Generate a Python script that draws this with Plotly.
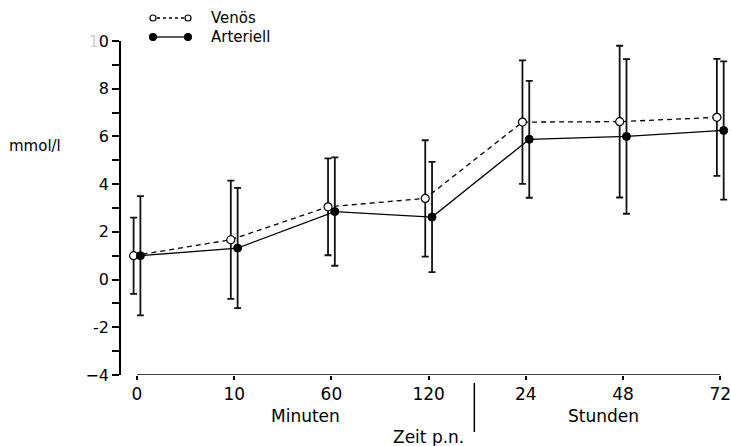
import plotly.graph_objects as go

# ---- data ----
time_labels = ["0", "10", "60", "120", "24", "48", "72"]
positions = [0, 1, 2, 3, 4, 5, 6]
venoes_mean = [1.0, 1.67, 3.05, 3.4, 6.6, 6.62, 6.8]
venoes_sd = [1.6, 2.48, 2.03, 2.44, 2.59, 3.18, 2.45]
arteriell_mean = [1.0, 1.32, 2.85, 2.62, 5.88, 6.0, 6.25]
arteriell_sd = [2.5, 2.52, 2.27, 2.31, 2.45, 3.24, 2.9]
y_tickvals = list(range(-4, 11))
y_ticktext = {-4: "\u22124", -2: "-2", 0: "0", 2: "2", 4: "4", 6: "6", 8: "8",
              10: "<span style='color:#d0d0d0'>1</span>0"}

# ---- geometry helpers ----
W, H = 731, 446
UNIT = 97.2            # pixels per category step
X0PX = 137             # pixel of first category
L, T, B = 121, 41, 375
XMAX = 6.1
R = X0PX + XMAX * UNIT
def px(x): return (x - L) / (R - L)
def py(y): return (B - y) / (B - T)

offset = 0.035
fig = go.Figure()
fig.add_trace(go.Scatter(
    x=[p - offset for p in positions], y=venoes_mean, mode="lines+markers",
    name="Venös", cliponaxis=False,
    line=dict(color="black", width=1.3, dash="5px,4px"),
    marker=dict(size=8, color="white", line=dict(color="black", width=1.2)),
    error_y=dict(type="data", array=venoes_sd, visible=True, color="#111",
                 thickness=1.8, width=3.5),
))
fig.add_trace(go.Scatter(
    x=[p + offset for p in positions], y=arteriell_mean, mode="lines+markers",
    name="Arteriell", cliponaxis=False,
    line=dict(color="black", width=1.3),
    marker=dict(size=8, color="black", line=dict(color="black", width=1)),
    error_y=dict(type="data", array=arteriell_sd, visible=True, color="#111",
                 thickness=1.8, width=3.5),
))

shapes = []
shapes.append(dict(type="line", xref="x", yref="y", x0=positions[0], x1=positions[-1],
                   y0=-4, y1=-4, line=dict(color="black", width=1.5)))
shapes.append(dict(type="line", xref="x", yref="paper", x0=3.47, x1=3.47,
                   y0=py(383), y1=py(432), line=dict(color="black", width=1.5)))
for yy, dash, fill, r in [(18, "3px,3px", "white", 3), (37, "solid", "black", 3.5)]:
    shapes.append(dict(type="line", xref="paper", yref="paper", x0=px(157), x1=px(184),
                       y0=py(yy), y1=py(yy), line=dict(color="black", width=1.3, dash=dash)))
    for cx in (153, 188):
        shapes.append(dict(type="circle", xref="paper", yref="paper",
                           xsizemode="pixel", ysizemode="pixel",
                           xanchor=px(cx), yanchor=py(yy),
                           x0=-r, x1=r, y0=-r, y1=r,
                           fillcolor=fill, line=dict(color="black", width=1.2)))

font = "DejaVu Sans"
annotations = [
    dict(text="Venös", xref="paper", yref="paper", x=px(209), y=py(18),
         xanchor="left", yanchor="middle", showarrow=False, font=dict(size=15)),
    dict(text="Arteriell", xref="paper", yref="paper", x=px(209), y=py(37),
         xanchor="left", yanchor="middle", showarrow=False, font=dict(size=15)),
    dict(text="mmol/l", xref="paper", yref="paper", x=px(35), y=py(146),
         xanchor="center", yanchor="middle", showarrow=False, font=dict(size=15)),
    dict(text="Minuten", xref="x", yref="paper", x=1.73, y=py(416),
         xanchor="center", yanchor="middle", showarrow=False, font=dict(size=17)),
    dict(text="Stunden", xref="x", yref="paper", x=4.8, y=py(416),
         xanchor="center", yanchor="middle", showarrow=False, font=dict(size=17)),
    dict(text="Zeit p.n.", xref="x", yref="paper", x=3.0, y=py(437),
         xanchor="center", yanchor="middle", showarrow=False, font=dict(size=17)),
]

fig.update_layout(
    width=W, height=H,
    margin=dict(l=L, r=W - R, t=T, b=H - B, pad=0, autoexpand=False),
    plot_bgcolor="white", paper_bgcolor="white",
    showlegend=False,
    font=dict(family=font, color="black"),
    shapes=shapes, annotations=annotations,
    xaxis=dict(range=[-(X0PX - L) / UNIT, XMAX], showgrid=False, zeroline=False, showline=False,
               automargin=False, ticklabeloverflow="allow",
               tickvals=positions, ticktext=time_labels, ticks="outside", ticklen=4,
               tickwidth=1.5, tickcolor="black", tickfont=dict(size=17)),
    yaxis=dict(range=[-4, 10], showgrid=False, zeroline=False, showline=True,
               automargin=False, ticklabeloverflow="allow",
               linecolor="black", linewidth=1.5,
               tickvals=y_tickvals, ticktext=[y_ticktext.get(v, "") for v in y_tickvals],
               ticks="outside", ticklen=7, tickwidth=1.5, tickcolor="black",
               tickfont=dict(size=16)),
)

fig.write_html("out.html")
